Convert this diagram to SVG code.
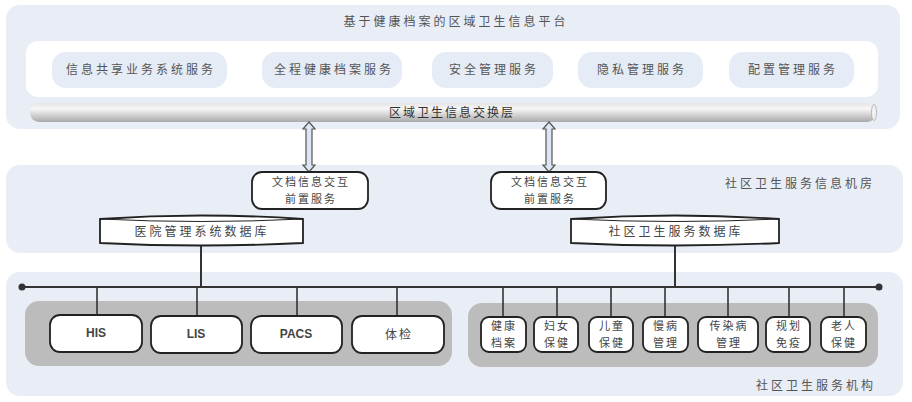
<svg xmlns="http://www.w3.org/2000/svg" width="912" height="402" viewBox="0 0 912 402">
<style>
.panel{fill:#e8edf6}
.pill{fill:#e6ecf6}
.t{font-family:"Noto Sans CJK SC","Noto Sans",sans-serif;font-size:12px;fill:#555;letter-spacing:3px;text-anchor:middle}
.tb{font-family:"Noto Sans CJK SC","Noto Sans",sans-serif;font-size:12px;fill:#444;letter-spacing:2px;text-anchor:middle}
.ts{font-family:"Noto Sans CJK SC","Noto Sans",sans-serif;font-size:11px;fill:#444;letter-spacing:2px;text-anchor:middle}
.en{font-family:"Liberation Sans",Arial,sans-serif;font-size:12px;font-weight:bold;fill:#444;text-anchor:middle}
.box{fill:#fff;stroke:#222;stroke-width:1.8}
.ln{stroke:#333;stroke-width:2;fill:none}
.arr{fill:#dde6f2;stroke:#555;stroke-width:1.2}
</style>
<defs>
<linearGradient id="bar" x1="0" y1="0" x2="0" y2="1">
<stop offset="0" stop-color="#e4e4e4"/>
<stop offset="0.3" stop-color="#f7f7f7"/>
<stop offset="1" stop-color="#a9a9a9"/>
</linearGradient>
</defs>
<rect width="912" height="402" fill="#fff"/>

<g id="platform">
<rect class="panel" x="6" y="5" width="894" height="124" rx="14"/>
<text class="t" x="456" y="26">基于健康档案的区域卫生信息平台</text>
<rect x="26" y="41" width="852" height="56" rx="12" fill="#fff"/>
<g id="svc1"><rect class="pill" x="52" y="52" width="175" height="36" rx="14"/><text class="t" x="141" y="74">信息共享业务系统服务</text></g>
<g id="svc2"><rect class="pill" x="262" y="52" width="140" height="36" rx="14"/><text class="t" x="334" y="74">全程健康档案服务</text></g>
<g id="svc3"><rect class="pill" x="432" y="52" width="121" height="36" rx="14"/><text class="t" x="494" y="74">安全管理服务</text></g>
<g id="svc4"><rect class="pill" x="578" y="52" width="125" height="36" rx="14"/><text class="t" x="642" y="74">隐私管理服务</text></g>
<g id="svc5"><rect class="pill" x="729" y="52" width="125" height="36" rx="14"/><text class="t" x="793" y="74">配置管理服务</text></g>
<g id="exchange">
<rect x="30" y="103" width="846" height="19" rx="9" fill="url(#bar)"/>
<ellipse cx="874" cy="112.5" rx="2.5" ry="8" fill="#f2f2f2" stroke="#aaa" stroke-width="0.8"/>
<text class="tb" x="452" y="117" style="fill:#333">区域卫生信息交换层</text>
</g>
</g>

<g id="machineroom">
<rect class="panel" x="6" y="165" width="897" height="88" rx="14"/>
<text class="t" x="800" y="188">社区卫生服务信息机房</text>
</g>

<g id="institution">
<rect class="panel" x="6" y="272" width="897" height="124" rx="14"/>
<text class="t" x="816" y="390">社区卫生服务机构</text>
<rect x="25" y="301" width="427" height="65" rx="14" fill="#bcbcbc"/>
<rect x="468" y="303" width="410" height="64" rx="14" fill="#bcbcbc"/>
</g>

<g id="connectors">
<path class="arr" d="M309,122 L315,129 L312,129 L312,165 L315,165 L309,172 L303,165 L306,165 L306,129 L303,129 Z"/>
<path class="arr" d="M549,122 L555,129 L552,129 L552,165 L555,165 L549,172 L543,165 L546,165 L546,129 L543,129 Z"/>
<line class="ln" x1="201" y1="245" x2="201" y2="287"/>
<line class="ln" x1="675" y1="245" x2="675" y2="287"/>
<line class="ln" x1="22" y1="287" x2="879" y2="287"/>
<circle cx="22" cy="287" r="3.5" fill="#333"/>
<circle cx="879" cy="287" r="3.5" fill="#333"/>
<g class="ln" style="stroke-width:1.6">
<line x1="97" y1="287" x2="97" y2="315"/>
<line x1="197" y1="287" x2="197" y2="316"/>
<line x1="297" y1="287" x2="297" y2="316"/>
<line x1="397" y1="287" x2="397" y2="316"/>
<line x1="503" y1="287" x2="503" y2="317"/>
<line x1="557" y1="287" x2="557" y2="317"/>
<line x1="611" y1="287" x2="611" y2="317"/>
<line x1="665" y1="287" x2="665" y2="317"/>
<line x1="728" y1="287" x2="728" y2="317"/>
<line x1="789" y1="287" x2="789" y2="317"/>
<line x1="844" y1="287" x2="844" y2="317"/>
</g>
</g>

<g id="docsvc1"><rect class="box" x="252" y="172" width="116" height="37" rx="10"/><text class="ts" x="311" y="186">文档信息交互</text><text class="ts" x="311" y="202.5">前置服务</text></g>
<g id="docsvc2"><rect class="box" x="491" y="172" width="115" height="37" rx="10"/><text class="ts" x="550" y="186">文档信息交互</text><text class="ts" x="550" y="202.5">前置服务</text></g>

<g id="db1">
<path class="box" d="M100,219 Q201,212 303,219 L303,243 Q201,248 100,243 Z"/>
<path d="M100,219 Q201,224 303,219" fill="none" stroke="#222" stroke-width="1"/>
<text class="tb" x="202" y="236" style="letter-spacing:3px">医院管理系统数据库</text>
</g>
<g id="db2">
<path class="box" d="M571,219 Q675,212 779,219 L779,243 Q675,248 571,243 Z"/>
<path d="M571,219 Q675,224 779,219" fill="none" stroke="#222" stroke-width="1"/>
<text class="tb" x="676" y="236" style="letter-spacing:3px">社区卫生服务数据库</text>
</g>

<g id="his"><rect class="box" x="50" y="315" width="92" height="37" rx="10"/><text class="en" x="96" y="337">HIS</text></g>
<g id="lis"><rect class="box" x="151" y="316" width="91" height="37" rx="10"/><text class="en" x="196" y="338">LIS</text></g>
<g id="pacs"><rect class="box" x="251" y="316" width="91" height="37" rx="10"/><text class="en" x="296" y="338">PACS</text></g>
<g id="tijian"><rect class="box" x="352" y="316" width="92" height="37" rx="10"/><text class="tb" x="399" y="339">体检</text></g>

<g id="r1"><rect class="box" x="481" y="317" width="45" height="35" rx="8"/><text class="ts" x="504" y="330">健康</text><text class="ts" x="504" y="346.5">档案</text></g>
<g id="r2"><rect class="box" x="534" y="317" width="44" height="35" rx="8"/><text class="ts" x="557" y="330">妇女</text><text class="ts" x="557" y="346.5">保健</text></g>
<g id="r3"><rect class="box" x="589" y="317" width="44" height="35" rx="8"/><text class="ts" x="612" y="330">儿童</text><text class="ts" x="612" y="346.5">保健</text></g>
<g id="r4"><rect class="box" x="643" y="317" width="45" height="35" rx="8"/><text class="ts" x="666" y="330">慢病</text><text class="ts" x="666" y="346.5">管理</text></g>
<g id="r5"><rect class="box" x="698" y="317" width="60" height="35" rx="8"/><text class="ts" x="729" y="330">传染病</text><text class="ts" x="729" y="346.5">管理</text></g>
<g id="r6"><rect class="box" x="766" y="317" width="44" height="35" rx="8"/><text class="ts" x="789" y="330">规划</text><text class="ts" x="789" y="346.5">免疫</text></g>
<g id="r7"><rect class="box" x="821" y="317" width="45" height="35" rx="8"/><text class="ts" x="844" y="330">老人</text><text class="ts" x="844" y="346.5">保健</text></g>
</svg>
